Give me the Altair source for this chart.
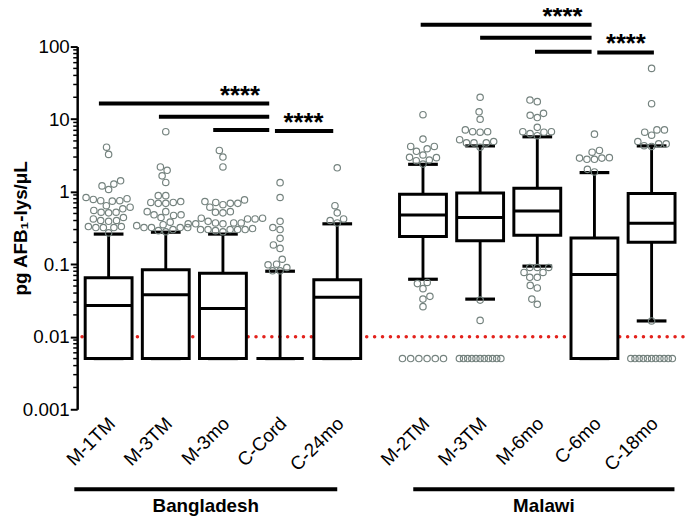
import json
import math
import altair as alt
import pandas as pd

# ---------------- data ----------------
categories = ["M-1TM", "M-3TM", "M-3mo", "C-Cord", "C-24mo",
              "M-2TM", "M-3TM", "M-6mo", "C-6mo", "C-18mo"]
positions = [0, 1, 2, 3, 4, 5.5, 6.5, 7.5, 8.5, 9.5]

whisker_low = [0.005, 0.005, 0.005, 0.005, 0.005, 0.062, 0.033, 0.094, 0.005, 0.0165]
q1 = [0.005, 0.005, 0.005, 0.005, 0.005, 0.24, 0.21, 0.25, 0.005, 0.20]
median = [0.027, 0.038, 0.0245, 0.005, 0.035, 0.475, 0.44, 0.54, 0.072, 0.367]
q3 = [0.065, 0.084, 0.075, 0.005, 0.061, 0.92, 0.96, 1.11, 0.229, 0.94]
whisker_high = [0.26, 0.276, 0.26, 0.08, 0.36, 2.38, 4.27, 5.7, 1.83, 4.27]

outliers = [
    [4.1, 3.26, 1.41, 1.27, 1.2, 1.07, 0.83, 0.80, 0.78, 0.75, 0.75, 0.74, 0.64, 0.61,
     0.58, 0.55, 0.52, 0.52, 0.51, 0.44, 0.42, 0.40, 0.40, 0.39, 0.33, 0.33, 0.32,
     0.32, 0.32, 0.27],
    [6.7, 2.19, 1.97, 1.65, 1.34, 0.88, 0.88, 0.73, 0.71, 0.71, 0.69, 0.69, 0.53, 0.53,
     0.48, 0.48, 0.47, 0.44, 0.38, 0.35, 0.34, 0.32, 0.32, 0.32, 0.32, 0.30, 0.29, 0.28],
    [3.7, 3.0, 2.19, 0.77, 0.73, 0.71, 0.69, 0.69, 0.66, 0.61, 0.53, 0.52, 0.51, 0.43,
     0.43, 0.42, 0.42, 0.39, 0.37, 0.37, 0.37, 0.36, 0.36, 0.36, 0.31, 0.30, 0.30,
     0.30, 0.30, 0.30, 0.29, 0.28],
    [1.33, 0.83, 0.39, 0.30, 0.32, 0.227, 0.165, 0.184, 0.117, 0.100, 0.098, 0.081,
     0.09, 0.081],
    [2.13, 0.64, 0.37, 0.42, 0.51, 0.40],
    [11.5, 5.3, 4.2, 4.2, 3.9, 3.6, 3.2, 2.97, 2.67, 2.4, 2.73, 2.94,
     0.056, 0.054, 0.046, 0.036, 0.033, 0.026],
    [20, 12.6, 9.95, 6.7, 6.6, 6.7, 7.1, 5.2, 4.7, 4.7, 4.7, 4.9, 4.1, 0.032, 0.0168],
    [18.3, 17.4, 10.5, 12.0, 11.3, 7.7, 6.6, 6.7, 6.3, 6.7, 5.9,
     0.09, 0.09, 0.09, 0.077, 0.077, 0.066, 0.066, 0.047, 0.051, 0.028, 0.033],
    [6.2, 3.7, 2.94, 2.79, 2.9, 2.79, 2.9, 3.5, 1.87, 2.03],
    [50, 16.3, 6.6, 7.1, 7.1, 6.0, 4.3, 4.55, 4.55, 4.9, 4.2, 0.0165],
]
nd_counts = [0, 0, 0, 0, 0, 6, 11, 0, 0, 11]   # non-detects plotted at LOD/2
nd_value = 0.005
lod = 0.01

sig_x1 = [-0.17, 0.88, 1.83, 2.91, 5.46, 6.5, 7.46, 8.55]
sig_x2 = [2.81, 2.81, 2.81, 3.93, 8.45, 8.45, 8.45, 9.54]
sig_y = [16.4, 10.8, 7.06, 6.85, 200, 132, 85, 83]
star_x = [2.30, 3.41, 7.94, 9.05]
star_y = [16.4, 6.85, 200, 83]

group_names = ["Bangladesh", "Malawi"]
group_x1 = [-0.6, 5.33]
group_x2 = [4.0, 9.9]

# ---------------- layout constants ----------------
W, H = 613, 367
XDOM = [-0.55, 10.05]
YDOM = [0.001, 100]
px_x = W / (XDOM[1] - XDOM[0])
px_y = H / (math.log10(YDOM[1]) - math.log10(YDOM[0]))
D = 7.6  # swarm spacing in px


def swarm(vals):
    ys = [math.log10(v) * px_y for v in vals]
    order = sorted(range(len(vals)), key=lambda i: ys[i])
    placed, offs = [], [0.0] * len(vals)
    for i in order:
        cands = [0.0]
        for xj, yj in placed:
            dy = ys[i] - yj
            if abs(dy) < D:
                dx = math.sqrt(D * D - dy * dy)
                cands += [xj + dx, xj - dx]
        cands.sort(key=lambda c: (abs(c), c))
        for c in cands:
            if all((c - xj) ** 2 + (ys[i] - yj) ** 2 >= D * D - 1e-6 for xj, yj in placed):
                offs[i] = c
                break
        placed.append((offs[i], ys[i]))
    return offs


pts = []
for k, vals in enumerate(outliers):
    for v, o in zip(vals, swarm(vals)):
        pts.append({"x": positions[k] + o / px_x, "v": v})
    n = nd_counts[k]
    if n:
        step = min(D + 0.7, 42.0 / (n - 1))
        for j in range(n):
            o = (j - (n - 1) / 2) * step
            pts.append({"x": positions[k] + o / px_x, "v": nd_value})
pts_df = pd.DataFrame(pts)

box_df = pd.DataFrame({
    "x": positions, "lo": whisker_low, "q1": q1, "med": median, "q3": q3, "hi": whisker_high,
})
box_df["bx1"] = box_df["x"] - 0.41
box_df["bx2"] = box_df["x"] + 0.41
box_df["cx1"] = box_df["x"] - 0.26
box_df["cx2"] = box_df["x"] + 0.26

sig_df = pd.DataFrame({"x1": sig_x1, "x2": sig_x2, "y": sig_y})
star_df = pd.DataFrame({"x": star_x, "y": star_y, "t": ["****"] * len(star_x)})
grp_df = pd.DataFrame({"x1": group_x1, "x2": group_x2, "name": group_names})
grp_df["xc"] = (grp_df["x1"] + grp_df["x2"]) / 2
lod_df = pd.DataFrame({"y": [lod]})
minor_df = pd.DataFrame({"y": [m * 10.0 ** e for e in range(-3, 2) for m in range(2, 10)]})

FONT = "Liberation Sans"
xscale = alt.Scale(domain=XDOM, nice=False, zero=False)
yscale = alt.Scale(type="log", domain=YDOM, nice=False)
label_expr = f"{json.dumps(categories)}[indexof({json.dumps(positions)}, datum.value)]"
xaxis = alt.Axis(values=positions, labelExpr=label_expr, labelAngle=-45, labelAlign="right",
                 labelBaseline="middle", domain=False, ticks=False, grid=False, title=None,
                 labelFontSize=19, labelFont=FONT, labelColor="black", labelPadding=11,
                 labelOffset=3, labelOverlap=False, labelBound=False, labelFlush=False)
yaxis = alt.Axis(values=[0.001, 0.01, 0.1, 1, 10, 100], format="~g", grid=False,
                 title="pg AFB\u2081-lys/\u03bcL", titleFontSize=19, titleFont=FONT,
                 titleFontWeight="bold", titleColor="black", titleAngle=-90,
                 titleBaseline="middle", titleX=-57, titleY=H / 2, titleAlign="center",
                 labelFontSize=19, labelFont=FONT, labelColor="black", labelPadding=1,
                 tickSize=7, tickWidth=2, tickColor="black", domainWidth=2.5,
                 domainColor="black", labelOverlap=False)


def X(f):
    return alt.X(f, type="quantitative", scale=xscale, axis=xaxis)


def Y(f):
    return alt.Y(f, type="quantitative", scale=yscale, axis=yaxis)


lod_line = alt.Chart(lod_df).mark_rule(
    color="#e3221c", strokeWidth=3.5, strokeDash=[0.1, 7.9], strokeCap="round"
).encode(y=Y("y"))

minor = alt.Chart(minor_df).mark_rule(color="black", strokeWidth=1.5).encode(
    y=Y("y"), x=alt.value(-4), x2=alt.value(0))

whisk = alt.Chart(box_df).mark_rule(color="black", strokeWidth=2.9).encode(
    x=X("x"), y=Y("lo"), y2="hi")
cap_hi = alt.Chart(box_df).mark_rule(color="black", strokeWidth=3.2).encode(
    x=X("cx1"), x2="cx2", y=Y("hi"))
cap_lo = alt.Chart(box_df).mark_rule(color="black", strokeWidth=3.2).encode(
    x=X("cx1"), x2="cx2", y=Y("lo"))
boxes = alt.Chart(box_df).mark_rect(fill="white", stroke="black", strokeWidth=3).encode(
    x=X("bx1"), x2="bx2", y=Y("q1"), y2="q3")
med = alt.Chart(box_df).mark_rule(color="black", strokeWidth=3).encode(
    x=X("bx1"), x2="bx2", y=Y("med"))

points = alt.Chart(pts_df).mark_point(
    shape="circle", filled=False, size=42, strokeWidth=1.2, color="#75837f", opacity=1
).encode(x=X("x"), y=Y("v"))

sig = alt.Chart(sig_df).mark_rule(color="black", strokeWidth=4).encode(
    x=X("x1"), x2="x2", y=Y("y"))
stars = alt.Chart(star_df).mark_text(
    font=FONT, fontSize=26, fontWeight="bold", baseline="alphabetic", align="center",
    color="black"
).encode(x=X("x"), y=Y("y"), text="t:N")

grp_line = alt.Chart(grp_df).mark_rule(color="black", strokeWidth=4).encode(
    x=X("x1"), x2="x2", y=alt.value(448))
grp_text = alt.Chart(grp_df).mark_text(
    font=FONT, fontSize=19, fontWeight="bold", baseline="middle", align="center",
    color="black"
).encode(x=X("xc"), y=alt.value(465), text="name:N")

chart = alt.layer(
    lod_line, minor, whisk, boxes, med, cap_hi, cap_lo, points, sig, stars, grp_line, grp_text
).properties(
    width=W, height=H,
    autosize=alt.AutoSizeParams(type="none"),
    padding={"left": 70, "top": 36, "right": 3, "bottom": 107},
).configure_view(stroke=None)

chart.save("out.html", embed_options={"renderer": "svg", "actions": False})
